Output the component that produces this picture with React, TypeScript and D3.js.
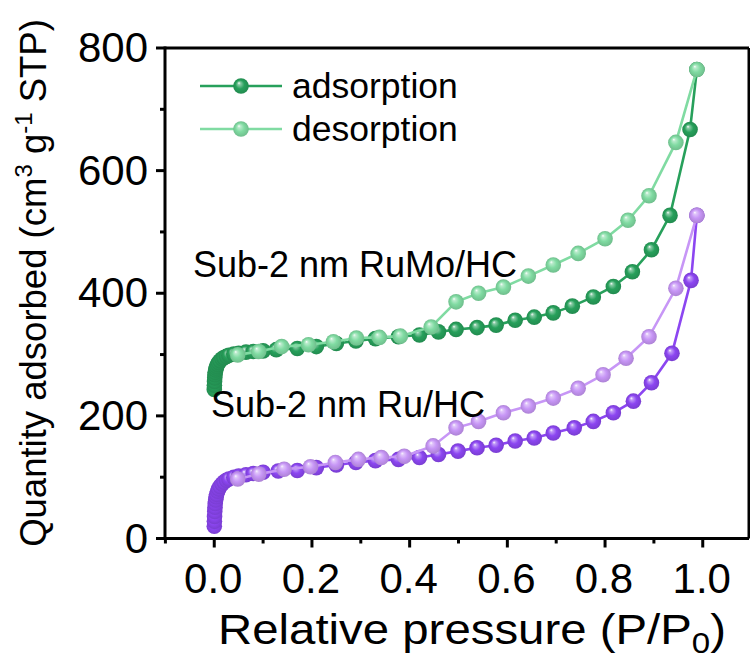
import React from "react";
import * as d3 from "d3";

// ---- Data ----
// Sub-2 nm RuMo/HC (green)
const greenAdsP = [0.0001, 0.0003, 0.0006, 0.001, 0.0015, 0.002, 0.003, 0.004, 0.005, 0.007, 0.009, 0.012, 0.016, 0.02, 0.025, 0.03, 0.04, 0.05, 0.065, 0.08, 0.1, 0.127, 0.17, 0.209, 0.25, 0.29, 0.33, 0.377, 0.42, 0.459, 0.495, 0.538, 0.577, 0.616, 0.655, 0.694, 0.733, 0.776, 0.817, 0.856, 0.895, 0.933, 0.974, 0.988];
const greenAdsV = [243, 250, 256, 262, 267, 271, 275, 278, 281, 284, 287, 290, 293, 295, 297, 299, 301, 302, 304, 305, 306, 308, 310, 313, 318, 322, 326, 329, 332, 337, 341, 344, 348, 356, 361, 368, 379, 394, 411, 435, 471, 527, 667, 765];
const greenDesP = [0.988, 0.945, 0.89, 0.847, 0.8, 0.745, 0.694, 0.643, 0.592, 0.541, 0.495, 0.444, 0.381, 0.338, 0.291, 0.244, 0.193, 0.138, 0.091, 0.048];
const greenDesV = [765, 646, 559, 519, 489, 465, 446, 428, 410, 400, 386, 345, 330, 328, 327, 321, 316, 313, 305, 299.5];

// Sub-2 nm Ru/HC (purple)
const purpleAdsP = [0.0001, 0.0003, 0.0006, 0.001, 0.0015, 0.002, 0.003, 0.004, 0.005, 0.007, 0.009, 0.012, 0.016, 0.02, 0.025, 0.03, 0.04, 0.05, 0.065, 0.08, 0.1, 0.131, 0.17, 0.209, 0.25, 0.29, 0.33, 0.377, 0.42, 0.459, 0.499, 0.538, 0.577, 0.616, 0.655, 0.694, 0.737, 0.776, 0.817, 0.858, 0.895, 0.937, 0.976, 0.988];
const purpleAdsV = [20, 28, 36, 44, 51, 57, 63, 68, 72, 77, 81, 85, 89, 92, 95, 97, 100, 102, 104, 106, 108, 110, 111, 115.6, 120, 124, 127, 129, 132, 137, 142.5, 148, 152, 159, 164, 172, 180.5, 191, 205, 224, 254, 302, 421, 527];
const purpleDesP = [0.988, 0.945, 0.89, 0.843, 0.796, 0.745, 0.694, 0.643, 0.592, 0.541, 0.495, 0.448, 0.389, 0.342, 0.295, 0.248, 0.197, 0.143, 0.091, 0.048];
const purpleDesV = [527, 408, 329, 294, 267, 245, 229, 216, 205, 191, 180.5, 151, 134, 132, 129, 124, 117, 113, 105, 97];

const xMajorTicks = [0.0, 0.2, 0.4, 0.6, 0.8, 1.0];
const xMinorTicks = [-0.1, 0.1, 0.3, 0.5, 0.7, 0.9];
const yMajorTicks = [0, 200, 400, 600, 800];
const yMinorTicks = [100, 300, 500, 700];
const legendLabels = ["adsorption", "desorption"];

const FONT = "'Liberation Sans', Arial, sans-serif";

const COLORS = {
  greenDark: "#27a05b",
  greenLight: "#80dba2",
  purpleDark: "#8c46f1",
  purpleLight: "#c796f6",
};

type Series = { id: string; p: number[]; v: number[]; color: string };

export default function App() {
  const W = 750;
  const H = 659;
  const left = 165;
  const right = 749;
  const top = 48;
  const bottom = 538.5;

  const x = d3.scaleLinear().domain([-0.1, 1.1]).range([165.4, 751.6]);
  const y = d3.scaleLinear().domain([0, 800]).range([538.5, 48]);

  const series: Series[] = [
    { id: "pa", p: purpleAdsP, v: purpleAdsV, color: COLORS.purpleDark },
    { id: "pd", p: purpleDesP, v: purpleDesV, color: COLORS.purpleLight },
    { id: "ga", p: greenAdsP, v: greenAdsV, color: COLORS.greenDark },
    { id: "gd", p: greenDesP, v: greenDesV, color: COLORS.greenLight },
  ];

  const line = d3
    .line<[number, number]>()
    .x((d) => x(d[0]))
    .y((d) => y(d[1]));

  const grad = (id: string, c: string) => {
    const base = d3.color(c)!;
    const lighter = d3.interpolateRgb(c, "#ffffff")(0.45);
    const darker = base.darker(0.4).formatHex();
    return (
      <radialGradient id={`g-${id}`} cx="50%" cy="50%" r="50%" fx="36%" fy="30%">
        <stop offset="0%" stopColor="#ffffff" stopOpacity={0.95} />
        <stop offset="18%" stopColor={lighter} />
        <stop offset="55%" stopColor={c} />
        <stop offset="100%" stopColor={darker} />
      </radialGradient>
    );
  };

  const R = 7.8;

  return (
    <svg
      width={W}
      height={H}
      style={{ position: "absolute", left: 0, top: 0, background: "#ffffff" }}
      fontFamily={FONT}
    >
      <defs>
        {series.map((s) => (
          <React.Fragment key={s.id}>{grad(s.id, s.color)}</React.Fragment>
        ))}
      </defs>
      <rect x={0} y={0} width={W} height={H} fill="#ffffff" />

      {/* series */}
      <g>
        {series.map((s) => {
          const pts: [number, number][] = s.p.map((p, i) => [p, s.v[i]]);
          return (
            <g key={s.id}>
              <path d={line(pts) || ""} fill="none" stroke={s.color} strokeWidth={2.6} />
              {pts.map((d, i) => (
                <circle key={i} cx={x(d[0])} cy={y(d[1])} r={R} fill={`url(#g-${s.id})`} />
              ))}
            </g>
          );
        })}
      </g>

      {/* frame */}
      <g stroke="#000" strokeWidth={3} fill="none">
        <line x1={left} y1={top} x2={right} y2={top} />
        <line x1={right} y1={top} x2={right} y2={bottom} />
        <line x1={left} y1={top - 1.5} x2={left} y2={bottom + 1.5} />
        <line x1={left - 1.5} y1={bottom} x2={right} y2={bottom} />
      </g>

      {/* ticks */}
      <g stroke="#000" strokeWidth={3}>
        {xMajorTicks.map((t) => (
          <line key={`xM${t}`} x1={x(t)} x2={x(t)} y1={bottom} y2={bottom + 9} />
        ))}
        {xMinorTicks.map((t) => (
          <line key={`xm${t}`} x1={x(t)} x2={x(t)} y1={bottom} y2={bottom + 5} />
        ))}
        {yMajorTicks.map((t) => (
          <line key={`yM${t}`} x1={left - 9} x2={left} y1={y(t)} y2={y(t)} />
        ))}
        {yMinorTicks.map((t) => (
          <line key={`ym${t}`} x1={left - 5} x2={left} y1={y(t)} y2={y(t)} />
        ))}
      </g>

      {/* tick labels */}
      <g fontSize={42} fill="#000">
        {xMajorTicks.map((t) => (
          <text key={`xl${t}`} x={x(t) - 1} y={593} textAnchor="middle">
            {d3.format(".1f")(t)}
          </text>
        ))}
        {yMajorTicks.map((t) => (
          <text key={`yl${t}`} x={148} y={y(t) + 14} textAnchor="end">
            {t}
          </text>
        ))}
      </g>

      {/* axis titles */}
      <text x={218} y={644} fontSize={43} textLength={508} lengthAdjust="spacingAndGlyphs">
        Relative pressure (P/P
        <tspan fontSize={30} dy={9}>0</tspan>
        <tspan dy={-9}>)</tspan>
      </text>
      <text
        transform="translate(46,283) rotate(-90)"
        textAnchor="middle"
        fontSize={36.5}
      >
        Quantity adsorbed (cm
        <tspan fontSize={24} dy={-14}>3</tspan>
        <tspan dy={14}> g</tspan>
        <tspan fontSize={24} dy={-14}>-1</tspan>
        <tspan dy={14}> STP)</tspan>
      </text>

      {/* annotations */}
      <text x={193} y={277} fontSize={36}>Sub-2 nm RuMo/HC</text>
      <text x={211} y={417} fontSize={36}>Sub-2 nm Ru/HC</text>

      {/* legend */}
      {legendLabels.map((lab, i) => {
        const ly = 86 + i * 43;
        const s = i === 0 ? series[2] : series[3];
        return (
          <g key={lab}>
            <line x1={200} x2={282} y1={ly} y2={ly} stroke={s.color} strokeWidth={2.6} />
            <circle cx={241} cy={ly} r={R} fill={`url(#g-${s.id})`} />
            <text x={292} y={ly + 12} fontSize={35.5}>
              {lab}
            </text>
          </g>
        );
      })}
    </svg>
  );
}
